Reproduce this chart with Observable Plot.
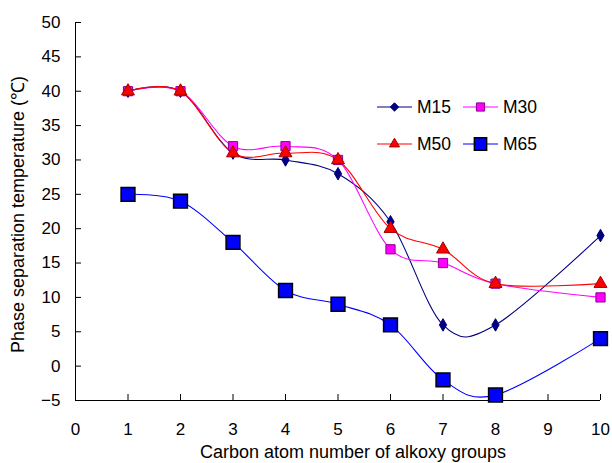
<!DOCTYPE html>
<html><head><meta charset="utf-8">
<script src="https://cdn.jsdelivr.net/npm/d3@7"></script>
<script src="https://cdn.jsdelivr.net/npm/@observablehq/plot@0.6"></script>
<style>
body{margin:0;background:#fff;font-family:"Liberation Sans",Arial,sans-serif;}
#wrap{position:relative;width:612px;height:463px;}
#legend{position:absolute;left:0;top:0;}
</style></head><body><div id="wrap"></div>
<script>
const carbon = [1, 2, 3, 4, 5, 6, 7, 8, 10];
const seriesNames = ["M15", "M30", "M50", "M65"];
const m15 = [40, 40, 31, 30, 28, 21, 6, 6, 19];
const m30 = [40, 40, 32, 32, 30, 17, 15, 12, 10];
const m50 = [40, 40, 31, 31, 30, 20, 17, 12, 12];
const m65 = [25, 24, 18, 11, 9, 6, -2, -4.2, 4];
const xTicks = [0,1,2,3,4,5,6,7,8,9,10];
const yTicks = [-5,0,5,10,15,20,25,30,35,40,45,50];
const xTitle = "Carbon atom number of alkoxy groups";
const yTitle = "Phase separation temperature (℃)";

const styles = {
  M15: {stroke:"#000080", fill:"#000080", symbol:"diamond", r:3.8, ms:"#000080", sw:1},
  M30: {stroke:"#ff00ff", fill:"#ff00ff", symbol:"square", r:5.2, ms:"#8b008b", sw:1},
  M50: {stroke:"#ff0000", fill:"#ff0000", symbol:"triangle", r:4.8, ms:"#a00000", sw:1},
  M65: {stroke:"#0000ff", fill:"#0000ff", symbol:"square", r:7.8, ms:"#000000", sw:1.5}
};
const vals = {M15:m15, M30:m30, M50:m50, M65:m65};
const rows = s => carbon.map((c,i)=>({x:c, y:vals[s][i], s}));
const order = ["M65","M15","M30","M50"];
const smooth = d3.curveCardinal.tension(0);

const marks = [];
for (const s of order) {
  marks.push(Plot.line(rows(s), {x:"x", y:"y", stroke:styles[s].stroke, strokeWidth:1.1, curve:smooth}));
}
for (const s of order) {
  marks.push(Plot.dot(rows(s), {x:"x", y:"y", symbol:()=>styles[s].symbol, fill:styles[s].fill, stroke:styles[s].ms, strokeWidth:styles[s].sw, r:styles[s].r}));
}

const chart = Plot.plot({
  width:612, height:463,
  marginLeft:75, marginRight:12, marginTop:22, marginBottom:63,
  style:{fontFamily:"Liberation Sans, Arial, sans-serif", fontSize:"17px", color:"#000", background:"#fff"},
  x:{domain:[0,10]},
  y:{domain:[-5,50]},
  marks:[
    Plot.axisX({ticks:xTicks, tickSize:-6, tickFormat:()=>"", label:null}),
    Plot.axisX({ticks:xTicks, tickSize:0, tickPadding:22, fontSize:17, label:null}),
    Plot.axisY({ticks:yTicks, tickSize:-6, tickFormat:()=>"", label:null}),
    Plot.axisY({ticks:yTicks, tickSize:0, tickPadding:15, fontSize:17, label:null}),
    Plot.text([xTitle], {frameAnchor:"bottom", textAnchor:"middle", lineAnchor:"middle", dy:52, dx:15, fontSize:18, text:d=>d}),
    Plot.text([yTitle], {frameAnchor:"left", textAnchor:"middle", lineAnchor:"middle", rotate:-90, dx:-57, dy:3, fontSize:18, text:d=>d}),
    Plot.ruleX([0]),
    Plot.ruleY([-5]),
    ...marks
  ]
});
const wrap = document.getElementById("wrap");
wrap.appendChild(chart);

// legend overlay
const legendItems = [
  {s:"M15", x:377, y:107}, {s:"M30", x:463, y:107},
  {s:"M50", x:377, y:144}, {s:"M65", x:463, y:144}
];
const svg = d3.select(wrap).append("svg").attr("id","legend").attr("width",612).attr("height",463);
for (const it of legendItems) {
  const st = styles[it.s];
  const g = svg.append("g");
  g.append("line").attr("x1",it.x).attr("x2",it.x+35).attr("y1",it.y).attr("y2",it.y).attr("stroke",st.stroke).attr("stroke-width",1.1);
  const sym = {diamond:d3.symbolDiamond2, square:d3.symbolSquare2, triangle:d3.symbolTriangle2}[st.symbol];
  const r = st.r;
  g.append("path").attr("d", d3.symbol(sym, r*r*Math.PI)()).attr("transform",`translate(${it.x+17.5},${it.y})`).attr("fill",st.fill).attr("stroke",st.ms).attr("stroke-width",st.sw);
  g.append("text").attr("x",it.x+40).attr("y",it.y).attr("dy","0.35em").attr("font-size",17.5).attr("font-family","Liberation Sans, Arial, sans-serif").text(it.s);
}
</script></body></html>
